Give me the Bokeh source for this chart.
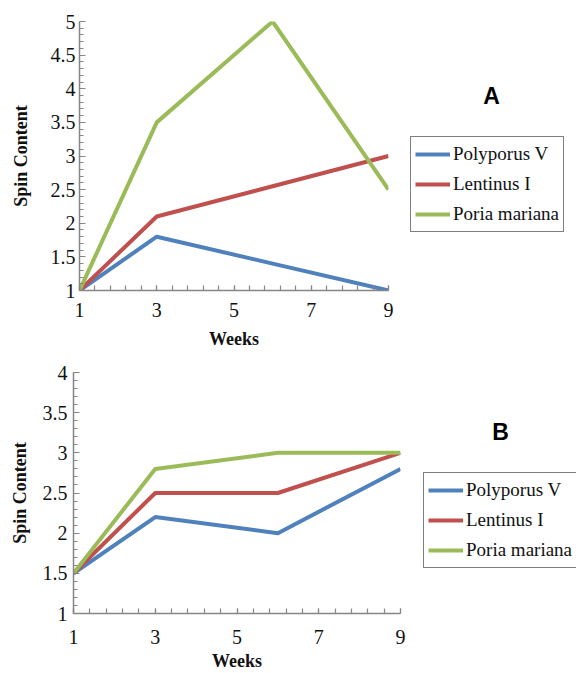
from bokeh.plotting import figure
from bokeh.layouts import column, row
from bokeh.models import Range1d, FixedTicker, CustomJSTickFormatter, Legend, LegendItem, ColumnDataSource
from bokeh.core.properties import value
from bokeh.embed import file_html
from bokeh.resources import INLINE
import numpy as np

# ---- data ----
weeks = [1, 3, 6, 9]
series_names = ["Polyporus V", "Lentinus I", "Poria mariana"]
colors = ["#4F81BD", "#C0504D", "#9BBB59"]

a_polyporus = [1.0, 1.8, 1.4, 1.0]
a_lentinus = [1.0, 2.1, 2.55, 3.0]
a_poria = [1.0, 3.5, 5.0, 2.5]

b_polyporus = [1.5, 2.2, 2.0, 2.8]
b_lentinus = [1.5, 2.5, 2.5, 3.0]
b_poria = [1.5, 2.8, 3.0, 3.0]

x_ticks = [1, 3, 5, 7, 9]
a_y_ticks = [1, 1.5, 2, 2.5, 3, 3.5, 4, 4.5, 5]
b_y_ticks = [1, 1.5, 2, 2.5, 3, 3.5, 4]

SERIF = "Liberation Serif"
AXIS_COLOR = "#868686"
TEXT_COLOR = "#111111"


def make_main(series, y_ticks, y_end, width, height, borders,
              xl_standoff, xa_standoff, yl_standoff, ya_standoff):
    left, right, top, bottom = borders
    p = figure(width=width, height=height, output_backend="svg", toolbar_location=None,
               x_range=Range1d(1, 9), y_range=Range1d(1, y_end),
               min_border_left=left, min_border_right=right,
               min_border_top=top, min_border_bottom=bottom)
    p.outline_line_color = None
    p.xgrid.visible = False
    p.ygrid.visible = False

    for vals, c in zip(series, colors):
        p.line(weeks, vals, line_color=c, line_width=4, line_join="round")

    x_minor = [round(v, 2) for v in np.arange(1, 9.001, 0.4)]
    y_minor = [round(v, 2) for v in np.arange(1, y_end + 0.001, 0.1)]
    p.xaxis.ticker = FixedTicker(ticks=x_ticks, minor_ticks=x_minor)
    p.yaxis.ticker = FixedTicker(ticks=y_ticks, minor_ticks=y_minor)
    p.yaxis.formatter = CustomJSTickFormatter(code="return String(Math.round(tick*10)/10);")

    for ax in (p.xaxis, p.yaxis):
        ax.axis_line_color = AXIS_COLOR
        ax.axis_line_width = 1.5
        ax.major_tick_line_color = AXIS_COLOR
        ax.minor_tick_line_color = AXIS_COLOR
        ax.major_tick_line_width = 1.2
        ax.minor_tick_line_width = 1.2
        ax.major_tick_out = 0
        ax.minor_tick_out = 0
        ax.major_label_text_font = SERIF
        ax.major_label_text_font_size = "20px"
        ax.major_label_text_color = TEXT_COLOR
        ax.axis_label_text_font = SERIF
        ax.axis_label_text_font_style = "bold"
        ax.axis_label_text_font_size = "18px"
        ax.axis_label_text_color = TEXT_COLOR
    p.xaxis.major_tick_in = 5
    p.xaxis.minor_tick_in = 5
    p.yaxis.major_tick_in = 6
    p.yaxis.minor_tick_in = 4
    p.xaxis.axis_label = "Weeks"
    p.yaxis.axis_label = "Spin Content"
    p.xaxis.major_label_standoff = xl_standoff
    p.xaxis.axis_label_standoff = xa_standoff
    p.yaxis.major_label_standoff = yl_standoff
    p.yaxis.axis_label_standoff = ya_standoff
    return p


def make_side(series, width, height, top, bottom, legend_loc, letter, letter_xy):
    fh = height - top - bottom  # frame height (aligned with the main plot's frame)
    s = figure(width=width, height=height, output_backend="svg", toolbar_location=None,
               x_range=Range1d(0, width), y_range=Range1d(0, fh),
               min_border_left=0, min_border_right=0,
               min_border_top=top, min_border_bottom=bottom)
    s.axis.visible = False
    s.xgrid.visible = False
    s.ygrid.visible = False
    s.outline_line_color = None
    rs = []
    for vals, c in zip(series, colors):
        r = s.line(weeks, vals, line_color=c, line_width=4)
        r.visible = False
        rs.append(r)
    items = [LegendItem(label=n, renderers=[r]) for n, r in zip(series_names, rs)]
    legend = Legend(items=items, location=legend_loc, margin=0,
                    padding=4, spacing=4,
                    glyph_width=35, glyph_height=26, label_height=26,
                    label_standoff=3,
                    label_text_font=SERIF, label_text_font_size="19px",
                    label_text_color=TEXT_COLOR,
                    border_line_color="black", border_line_width=1.5,
                    background_fill_color="white", background_fill_alpha=1.0)
    s.add_layout(legend, "center")
    src = ColumnDataSource(dict(x=[letter_xy[0]], y=[letter_xy[1]], t=[letter]))
    s.text(x="x", y="y", text="t", source=src,
           text_font=value("Liberation Sans"), text_font_style="bold",
           text_font_size="23px", text_align="center", text_baseline="middle",
           text_color="black")
    return s


# Panel A: page frame x 79-388, y 21-290
pa = make_main([a_polyporus, a_lentinus, a_poria], a_y_ticks, 5,
               396, 352, (79, 8, 21, 62), 12, 9, 4, 17)
sa = make_side([a_polyporus, a_lentinus, a_poria], 180, 352, 21, 62,
               (14, 58), "A", (95, 195))

# Panel B: page frame x 73-400, y 372-616
pb = make_main([b_polyporus, b_lentinus, b_poria], b_y_ticks, 4,
               408, 321, (73, 8, 20, 57), 16, 4, 6, 10)
sb = make_side([b_polyporus, b_lentinus, b_poria], 168, 321, 20, 57,
               (15, 45), "B", (92, 184))

layout = column(row(pa, sa, spacing=0), row(pb, sb, spacing=0), spacing=0)
open("out.html", "w").write(file_html(layout, INLINE))
